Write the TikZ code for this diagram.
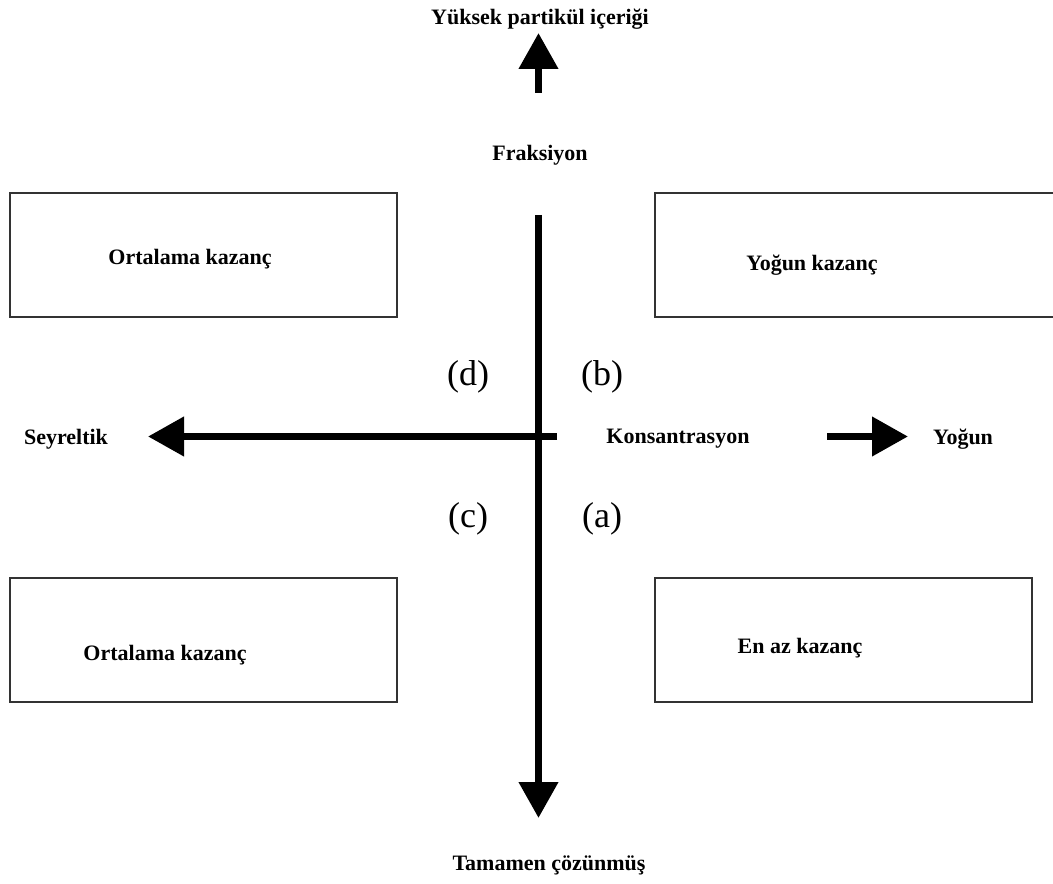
\documentclass[tikz,border=0pt]{standalone}
\usepackage{fontspec}
\setmainfont{Liberation Serif}
\usetikzlibrary{arrows.meta}

\begin{document}
\begin{tikzpicture}[x=0.75pt,y=-0.75pt,
  lbl/.style={font=\bfseries\fontsize{16.5}{18}\selectfont, inner sep=0pt, yshift=-2.25pt},
  quad/.style={font=\fontsize{27}{30}\selectfont, inner sep=0pt, yshift=-3pt},
  box/.style={draw=black!80, line width=2pt},
  axis/.style={line width=5.5pt, draw=black},
  tip/.style={-{Triangle[length=27pt,width=28.5pt]}}
]
\useasboundingbox (0,0) rectangle (1053,884);

% Quadrant boxes
\draw[box] (10,193) rectangle (397,317);
\draw[box] (1060,193) -- (655,193) -- (655,317) -- (1060,317);
\draw[box] (10,578) rectangle (397,702);
\draw[box] (655,578) rectangle (1032,702);

\node[lbl] (tl) at (190,256) {Ortalama kazanç};
\node[lbl] (tr) at (812,262) {Yoğun kazanç};
\node[lbl] (bl) at (165,652) {Ortalama kazanç};
\node[lbl] (br) at (800,645) {En az kazanç};

% Axis labels
\node[lbl] (top) at (540,16) {Yüksek partikül içeriği};
\node[lbl] (frak) at (540,152) {Fraksiyon};
\node[lbl] (sey) at (66,436) {Seyreltik};
\node[lbl] (kons) at (678,436) {Konsantrasyon};
\node[lbl] (yog) at (963,436) {Yoğun};
\node[lbl] (bot) at (549,862) {Tamamen çözünmüş};

% Quadrant letters
\node[quad] (d) at (468,373) {(d)};
\node[quad] (b) at (602,373) {(b)};
\node[quad] (c) at (468,515) {(c)};
\node[quad] (a) at (602,515) {(a)};

% Axes
\coordinate (vtop) at (538.5,215);
\coordinate (vend) at (538.5,818);
\coordinate (hright) at (557,436.5);
\coordinate (hend) at (148,436.5);
\coordinate (ubase) at (538.5,93);
\coordinate (uend) at (538.5,33);
\coordinate (rstart) at (827,436.5);
\coordinate (rend) at (908,436.5);

\draw[axis, tip] (vtop) -- (vend);
\draw[axis, tip] (hright) -- (hend);
\draw[axis, tip] (ubase) -- (uend);
\draw[axis, tip] (rstart) -- (rend);
\end{tikzpicture}
\end{document}
